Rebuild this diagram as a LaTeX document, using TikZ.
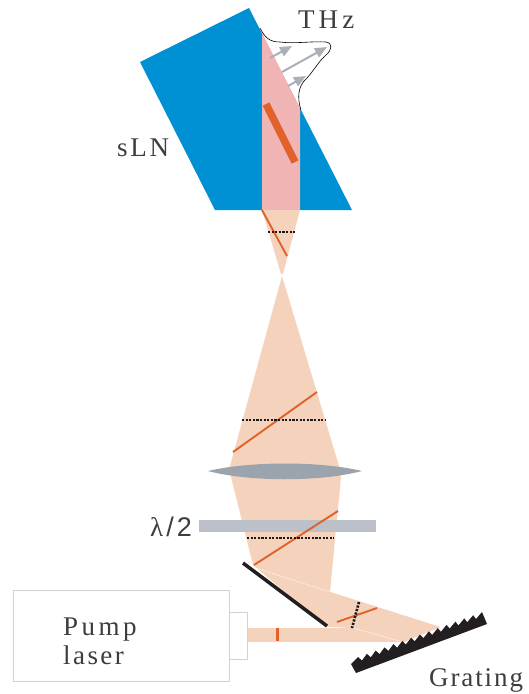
\documentclass[tikz,border=0pt]{standalone}
\usepackage{fontspec}
\usetikzlibrary{calc,arrows.meta}
\newfontfamily\labfont{Liberation Serif}
\newfontfamily\lamfont{Liberation Sans}
\definecolor{cblue}{HTML}{0090D4}
\definecolor{cpink}{HTML}{F0B4B4}
\definecolor{cpeach}{HTML}{F5D2BC}
\definecolor{corange}{HTML}{E0622A}
\definecolor{clens}{HTML}{9BA3AD}
\definecolor{cplate}{HTML}{BCC0C9}
\definecolor{cgrat}{HTML}{231F20}
\definecolor{carrow}{HTML}{ABAFB6}
\definecolor{ctext}{HTML}{3C3E3C}
\definecolor{cbox}{HTML}{D2D2D2}
\tikzset{
  lab/.style={anchor=base west,inner sep=0pt,text=ctext,font=\fontsize{27}{27}\labfont\addfontfeature{LetterSpace=#1}},
  pol/.style={draw=corange,line width=1.9pt},
  dots/.style={draw=black!90,line width=2.6pt,dash pattern=on 2.2pt off 1.4pt},
  thzarrow/.style={draw=carrow,line width=2pt,-{Triangle[length=12pt,width=10pt]}},
  housing/.style={draw=cbox,line width=.8pt,fill=white},
  faint/.style={draw=white,line width=.5pt,opacity=.7}
}
\begin{document}
\begin{tikzpicture}[x=1pt,y=-1pt]
\useasboundingbox (0,0) rectangle (528,694);
% crystal
\fill[cblue] (249,8) -- (140,62) -- (215,210) -- (352,210) -- cycle;
\fill[white] (262,33) -- (300,108) -- (300,33) -- cycle;
\fill[cpink] (262,33) -- (300,108) -- (300,210) -- (262,210) -- cycle;
% THz pulse
\draw[black,line width=.6pt] (260,28) .. controls (265,38) and (270,42) .. (280,42)
  .. controls (295,44) and (312,41) .. (326,42) .. controls (333,43) and (332,50) .. (326,55)
  .. controls (318,62) and (313,72) .. (306,79) .. controls (298,86) and (297,98) .. (301,110);
\draw[thzarrow] (270,58) -- (292,46);
\draw[thzarrow] (282,72) -- (327,47);
\draw[thzarrow] (288,86) -- (306,76);
\draw[draw=corange,line width=7.5pt] (266,104) -- (295,162);
% beams
\fill[cpeach] (262,210) -- (300,210) -- (283,274) -- (281,274) -- cycle;
\fill[cpeach] (282,276) -- (230,466) -- (231,477) -- (253,565) -- (353,628) -- (403,642) -- (440,627) -- (330,592) -- (334,550) -- (341,477) -- (339,466) -- cycle;
\fill[cpeach] (247,628) rectangle (404,642);
\fill[cpeach] (404,642) -- (396,632) -- (440,627) -- cycle;
\fill[cpeach] (253,565) -- (330,592) -- (440,627) -- (403,642) -- (353,628) -- (326,627) -- cycle;
\draw[faint] (253,567) -- (330,592);
\draw[faint] (353,628) -- (403,642);
% housing
\draw[housing] (13,590) rectangle (229,681);
\draw[housing] (229,612) rectangle (247,659);
% optics
\path[fill=clens] (208,471) .. controls (250,461) and (320,461) .. (362,471) .. controls (320,482) and (250,482) .. (208,471) -- cycle;
\fill[cplate] (199,520) rectangle (376,532);
% polarisation lines
\draw[pol] (262,210) -- (287,256);
\draw[pol] (233,452) -- (317,392);
\draw[pol] (254,565) -- (338,511);
\draw[pol] (337,622) -- (377,608);
\draw[corange,line width=3pt] (277.5,628) -- (277.5,641);
% dotted
\draw[dots] (268,232) -- (295,232);
\draw[dots] (242,420) -- (326,420);
\draw[dots] (247,538) -- (334,538);
\draw[dots] (359,602) -- (352,628);
% mirror
\draw[cgrat,line width=3.5pt] (243,563) -- (327,626);
% grating
\coordinate (va) at (362,660.5);
\coordinate (vb) at (476,619);
\coordinate (pa) at (358,657);
\coordinate (pb) at (482,612);
\fill[cgrat] (356,673) -- (351,664)
 \foreach \i in {0,...,13} { -- ($(pa)!{\i/14}!(pb)$) -- ($(va)!{\i/13}!(vb)$) }
 -- (pb) -- (487,624) -- cycle;
% labels
\node[lab=15] (thz) at (298,28) {THz};
\node[lab=10] (sln) at (117,156) {sLN};
\node[lab=13] (pump) at (63,635) {Pump};
\node[lab=9] (laser) at (63,664) {laser};
\node[lab=7] (grating) at (429,686) {Grating};
\node[anchor=base west,inner sep=0pt,text=ctext,font=\fontsize{27}{27}\lamfont] (lam) at (150,536) {{\labfont λ}\kern3pt/\kern3pt 2};
\end{tikzpicture}
\end{document}
